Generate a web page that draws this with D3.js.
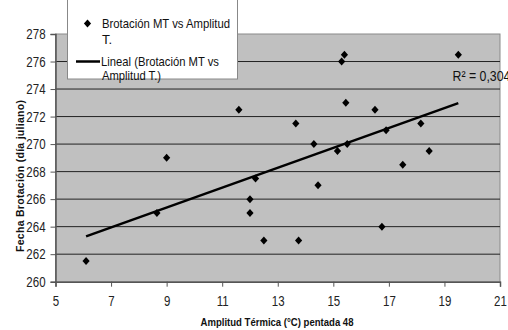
<!DOCTYPE html>
<html>
<head>
    <title>Brotación MT vs Amplitud T.</title>
    <style type="text/css">
        body { margin: 0; background: #fff; }
        svg text { font-family: "Liberation Sans", Arial, sans-serif; fill: #111; }
        .tick text { font-size: 14px; fill: #222; }
        .title { font-size: 10.5px; font-weight: bold; }
        .leg { font-size: 13px; }
    </style>
</head>
<body>
<script src="https://d3js.org/d3.v7.min.js" type="text/javascript"></script>
<script type="text/javascript">

    // amplitud termica (C), pentada 48
    var amplitud = [6.1, 8.65, 9, 11.6, 12, 12, 12.2, 12.5, 13.65, 13.75, 14.3, 14.45,
                    15.15, 15.3, 15.4, 15.45, 15.5, 16.5, 16.75, 16.9, 17.5, 18.15, 18.45, 19.5];
    // fecha brotacion (dia juliano)
    var brotacion = [261.5, 265, 269, 272.5, 266, 265, 267.5, 263, 271.5, 263, 270, 267,
                     269.5, 276, 276.5, 273, 270, 272.5, 264, 271, 268.5, 271.5, 269.5, 276.5];
    var xTicks = [5, 7, 9, 11, 13, 15, 17, 19, 21];
    var yTicks = [260, 262, 264, 266, 268, 270, 272, 274, 276, 278];
    var r2Label = 'R\u00b2 = 0,304';

    var W = 508, H = 330;
    var pL = 55.5, pR = 500, pT = 34, pB = 281.7;

    var svg = d3.select('body').append('svg')
        .attr('width', W).attr('height', H);

    // squeeze text horizontally, the original font is a narrow one
    function narrow(sel, k) {
        sel.each(function () {
            var w = this.getComputedTextLength();
            d3.select(this).attr('textLength', w * k).attr('lengthAdjust', 'spacingAndGlyphs');
        });
    }

    var x = d3.scaleLinear().domain([5, 21]).range([pL, pR]);
    var y = d3.scaleLinear().domain([260, 278]).range([pB, pT]);

    // plot area
    svg.append('rect')
        .attr('x', pL).attr('y', pT)
        .attr('width', pR - pL).attr('height', pB - pT)
        .attr('fill', '#c0c0c0')
        .attr('stroke', '#8a8a8a').attr('stroke-width', 1);

    // grid
    svg.append('g').selectAll('line')
        .data(yTicks.slice(1, -1))
        .enter().append('line')
        .attr('x1', pL).attr('x2', pR)
        .attr('y1', function (d) { return y(d); })
        .attr('y2', function (d) { return y(d); })
        .attr('stroke', '#222').attr('stroke-width', 1);

    var gx = svg.append('g')
        .attr('class', 'axis')
        .attr('transform', 'translate(0,' + pB + ')')
        .call(d3.axisBottom(x).tickValues(xTicks).tickSize(5).tickPadding(9));
    var gy = svg.append('g')
        .attr('class', 'axis')
        .attr('transform', 'translate(' + pL + ',0)')
        .call(d3.axisLeft(y).tickValues(yTicks).tickSize(5).tickPadding(5));
    svg.selectAll('.axis path, .axis line').attr('stroke', '#555');
    svg.selectAll('.axis path').attr('stroke-width', 1.5);
    gx.selectAll('.tick text').call(narrow, 0.82);
    gy.selectAll('.tick text').call(narrow, 0.82);

    // linear trendline (least squares)
    var mx = d3.mean(amplitud), my = d3.mean(brotacion);
    var sxy = 0, sxx = 0;
    amplitud.forEach(function (v, i) {
        sxy += (v - mx) * (brotacion[i] - my);
        sxx += (v - mx) * (v - mx);
    });
    var slope = sxy / sxx, icpt = my - slope * mx;
    var x0 = d3.min(amplitud), x1 = d3.max(amplitud);
    svg.append('line')
        .attr('x1', x(x0)).attr('y1', y(icpt + slope * x0))
        .attr('x2', x(x1)).attr('y2', y(icpt + slope * x1))
        .attr('stroke', '#000').attr('stroke-width', 2.5);

    // points (excel style diamond, a bit wider than d3's)
    var diamond = 'M0,-4L3.6,0L0,4L-3.6,0Z';
    svg.append('g').selectAll('path')
        .data(amplitud)
        .enter().append('path')
        .attr('d', diamond)
        .attr('transform', function (d, i) {
            return 'translate(' + x(d) + ',' + y(brotacion[i]) + ')';
        })
        .attr('fill', '#000');

    svg.append('text')
        .attr('x', 452.5).attr('y', 81)
        .attr('class', 'leg').style('font-size', '14px')
        .text(r2Label)
        .call(narrow, 0.88);

    // legend
    var lg = svg.append('g');
    lg.append('rect')
        .attr('x', 67.5).attr('y', -3)
        .attr('width', 170).attr('height', 82)
        .attr('fill', '#fff')
        .attr('stroke', '#888').attr('stroke-width', 1);
    lg.append('path')
        .attr('d', diamond)
        .attr('transform', 'translate(87.5,23.5)');
    var legLines = [
        ['Brotación MT vs Amplitud', 102, 28, 128],
        ['T.', 102, 44, 0],
        ['Lineal (Brotación MT vs', 101, 66, 118],
        ['Amplitud T.)', 102, 80, 59]
    ];
    legLines.forEach(function (r) {
        var t = lg.append('text').attr('class', 'leg')
            .attr('x', r[1]).attr('y', r[2]).text(r[0]);
        if (r[3]) t.attr('textLength', r[3]).attr('lengthAdjust', 'spacingAndGlyphs');
    });
    lg.append('line')
        .attr('x1', 76).attr('x2', 100).attr('y1', 61.5).attr('y2', 61.5)
        .attr('stroke', '#000').attr('stroke-width', 2.5);

    // axis titles
    svg.append('text')
        .attr('class', 'title')
        .attr('text-anchor', 'middle')
        .attr('x', 277).attr('y', 326)
        .attr('textLength', 153).attr('lengthAdjust', 'spacingAndGlyphs')
        .text('Amplitud Térmica (°C) pentada 48');
    svg.append('text')
        .attr('class', 'title')
        .attr('text-anchor', 'middle')
        .attr('transform', 'translate(24,176) rotate(-90)')
        .attr('textLength', 152).attr('lengthAdjust', 'spacing')
        .text('Fecha Brotación (día juliano)');

</script>
</body>
</html>
